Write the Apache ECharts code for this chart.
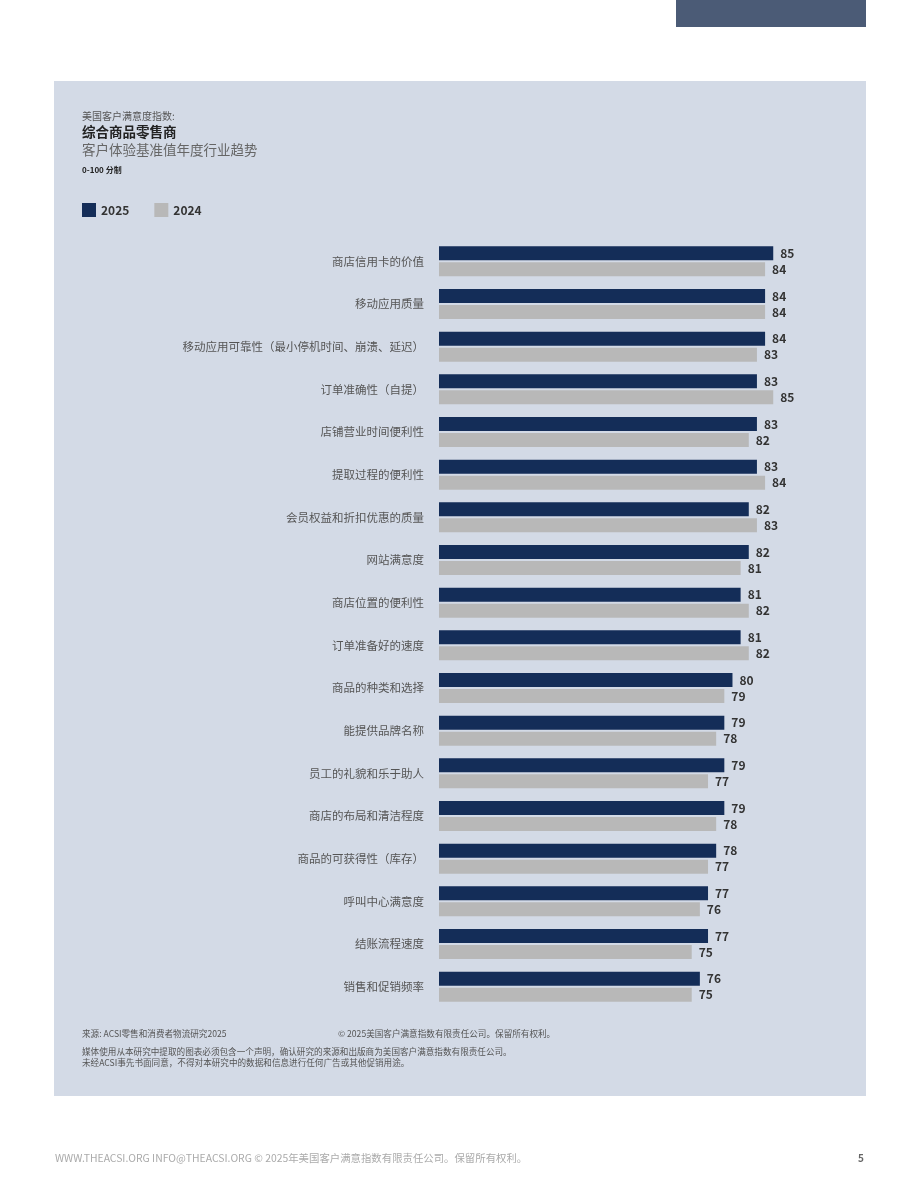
<!DOCTYPE html>
<html>
<head>
<meta charset="utf-8">
<script src="https://cdn.jsdelivr.net/npm/echarts@6/dist/echarts.min.js"></script>
<style>
html,body{margin:0;padding:0;background:#fff;}
#main{width:920px;height:1191px;}
</style>
</head>
<body>
<div id="main"></div>
<script>
var categories = [
  '商店信用卡的价值',
  '移动应用质量',
  '移动应用可靠性（最小停机时间、崩溃、延迟）',
  '订单准确性（自提）',
  '店铺营业时间便利性',
  '提取过程的便利性',
  '会员权益和折扣优惠的质量',
  '网站满意度',
  '商店位置的便利性',
  '订单准备好的速度',
  '商品的种类和选择',
  '能提供品牌名称',
  '员工的礼貌和乐于助人',
  '商店的布局和清洁程度',
  '商品的可获得性（库存）',
  '呼叫中心满意度',
  '结账流程速度',
  '销售和促销频率'
];
var values2025 = [85, 84, 84, 83, 83, 83, 82, 82, 81, 81, 80, 79, 79, 79, 78, 77, 77, 76];
var values2024 = [84, 84, 83, 85, 82, 84, 83, 81, 82, 82, 79, 78, 77, 78, 77, 76, 75, 75];
var seriesNames = ['2025', '2024'];

var FONT = '"Noto Sans CJK SC", "Noto Sans", sans-serif';
var chartDom = document.getElementById('main');
var myChart = echarts.init(chartDom);
var option;
option = {
  backgroundColor: '#ffffff',
  textStyle: { fontFamily: FONT },
  graphic: [
    // 顶部色块
    { type: 'rect', left: 676, top: 0, shape: { width: 190, height: 27 }, style: { fill: '#4b5b76' }, z: -10 },
    // 面板背景
    { type: 'rect', left: 54, top: 81, shape: { width: 812, height: 1015 }, style: { fill: '#d3dae6' }, z: -10 },
    { type: 'text', left: 82, top: 111, style: { text: '美国客户满意度指数:', fill: '#555', font: '10px ' + FONT } },
    { type: 'text', left: 82, top: 125, style: { text: '综合商品零售商', fill: '#222', font: 'bold 13.5px ' + FONT } },
    { type: 'text', left: 82, top: 143, style: { text: '客户体验基准值年度行业趋势', fill: '#666', font: '13.5px ' + FONT } },
    { type: 'text', left: 82, top: 166, style: { text: '0-100 分制', fill: '#222', font: 'bold 8px ' + FONT } },
    { type: 'text', left: 82, top: 1029, style: { text: '来源: ACSI零售和消费者物流研究2025', fill: '#555', font: '8.6px ' + FONT } },
    { type: 'text', left: 338, top: 1029, style: { text: '© 2025美国客户满意指数有限责任公司。保留所有权利。', fill: '#555', font: '8.6px ' + FONT } },
    { type: 'text', left: 82, top: 1047, style: { text: '媒体使用从本研究中提取的图表必须包含一个声明，确认研究的来源和出版商为美国客户满意指数有限责任公司。', fill: '#555', font: '8.6px ' + FONT } },
    { type: 'text', left: 82, top: 1058, style: { text: '未经ACSI事先书面同意，不得对本研究中的数据和信息进行任何广告或其他促销用途。', fill: '#555', font: '8.6px ' + FONT } },
    { type: 'text', left: 55, top: 1153, style: { text: 'WWW.THEACSI.ORG INFO@THEACSI.ORG © 2025年美国客户满意指数有限责任公司。保留所有权利。', fill: '#aaa', font: '10.4px ' + FONT } },
    { type: 'text', right: 56, top: 1153, style: { text: '5', fill: '#666', font: 'bold 10px ' + FONT } }
  ],
  legend: {
    left: 82,
    top: 203,
    padding: 0,
    itemWidth: 14,
    itemHeight: 14,
    itemGap: 25,
    icon: 'rect',
    data: seriesNames,
    textStyle: { color: '#333', fontSize: 12, fontWeight: 'bold', fontFamily: FONT }
  },
  grid: {
    left: 439,
    right: 106,
    top: 240,
    bottom: 183,
    containLabel: false
  },
  xAxis: {
    type: 'value',
    min: 44,
    max: 90,
    show: false
  },
  yAxis: {
    type: 'category',
    inverse: true,
    data: categories,
    axisLine: { show: false },
    axisTick: { show: false },
    axisLabel: {
      margin: 15,
      color: '#555',
      fontSize: 11.5,
      fontFamily: FONT,
      padding: [2, 0, 0, 0]
    }
  },
  series: [
    {
      name: seriesNames[0],
      type: 'bar',
      data: values2025,
      barWidth: 14,
      barGap: '14%',
      itemStyle: { color: '#142d58' },
      label: { show: true, position: 'right', distance: 7, color: '#333', fontWeight: 'bold', fontSize: 12, fontFamily: FONT }
    },
    {
      name: seriesNames[1],
      type: 'bar',
      data: values2024,
      barWidth: 14,
      itemStyle: { color: '#b8b8b8' },
      label: { show: true, position: 'right', distance: 7, color: '#333', fontWeight: 'bold', fontSize: 12, fontFamily: FONT }
    }
  ]
};
option && myChart.setOption(option);
window.addEventListener('resize', () => {
  myChart.resize();
});
</script>
</body>
</html>
